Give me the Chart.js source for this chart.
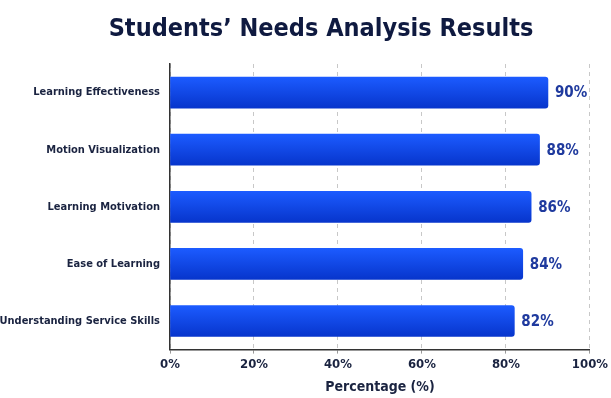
<!DOCTYPE html>
<html>
<head>
<meta charset="utf-8">
<script src="https://cdn.jsdelivr.net/npm/chart.js@4.4.1/dist/chart.umd.min.js"></script>
<style>
  html, body { margin: 0; padding: 0; background: #fff; }
  #wrap { width: 611px; height: 398px; }
</style>
</head>
<body>
<div id="wrap"><canvas id="chart" width="611" height="398"></canvas></div>
<script>
const categories = [
  'Learning Effectiveness',
  'Motion Visualization',
  'Learning Motivation',
  'Ease of Learning',
  'Understanding Service Skills'
];
const percentages = [90, 88, 86, 84, 82];
const xTicks = [0, 20, 40, 60, 80, 100];

const FONT = '"Liberation Sans Narrow", "DejaVu Sans Condensed", Roboto, sans-serif';
const BAR_THICK = 31;

// value labels to the right of each bar
const valueLabels = {
  id: 'valueLabels',
  afterDatasetsDraw(chart) {
    const ctx = chart.ctx;
    const meta = chart.getDatasetMeta(0);
    ctx.save();
    ctx.font = 'bold 15px ' + FONT;
    ctx.fillStyle = '#1f3a9e';
    ctx.textAlign = 'left';
    ctx.textBaseline = 'middle';
    meta.data.forEach((bar, i) => {
      ctx.fillText(percentages[i] + '%', bar.x + 7, bar.y + 1);
    });
    ctx.restore();
  }
};

new Chart(document.getElementById('chart'), {
  type: 'bar',
  data: {
    labels: categories,
    datasets: [{
      data: percentages,
      barThickness: BAR_THICK,
      borderRadius: 3,
      borderSkipped: 'start',
      backgroundColor(c) {
        const y = c.chart.scales.y;
        if (!y || c.dataIndex === undefined) return '#0d45f0';
        const mid = y.getPixelForValue(c.dataIndex);
        if (!isFinite(mid)) return '#0d45f0';
        const g = c.chart.ctx.createLinearGradient(0, mid - BAR_THICK / 2, 0, mid + BAR_THICK / 2);
        g.addColorStop(0, '#1c5bff');
        g.addColorStop(1, '#0735cc');
        return g;
      }
    }]
  },
  options: {
    indexAxis: 'y',
    responsive: false,
    animation: false,
    layout: { padding: { left: 0, right: 14, top: 0, bottom: 0 } },
    plugins: {
      legend: { display: false },
      tooltip: { enabled: false },
      title: {
        display: true,
        // leading en spaces nudge the centred title to the right, as in the original
        text: '\u2002\u2002\u2002\u2002Students\u2019 Needs Analysis Results',
        color: '#0f1a40',
        font: { family: FONT, size: 25, weight: 'bold' },
        padding: { top: 14, bottom: 20 }
      }
    },
    scales: {
      x: {
        min: 0,
        max: 100,
        afterBuildTicks(scale) {
          scale.ticks = xTicks.map(v => ({ value: v }));
        },
        ticks: {
          callback: v => v + '%',
          color: '#1a2340',
          font: { family: FONT, size: 13, weight: 'bold' },
          padding: 3,
          maxRotation: 0
        },
        grid: {
          color: '#c8c8c8',
          tickColor: '#999',
          tickLength: 4,
          drawOnChartArea: true
        },
        border: { display: true, color: '#333', width: 1.5, dash: [4, 4] },
        title: {
          display: true,
          text: 'Percentage (%)',
          color: '#1a2340',
          font: { family: FONT, size: 14, weight: 'bold' },
          padding: { top: 4, bottom: 2 }
        }
      },
      y: {
        afterFit(scale) { scale.width = 170; },
        ticks: {
          color: '#1a2340',
          font: { family: FONT, size: 11, weight: 'bold' },
          padding: 2
        },
        grid: { display: false },
        border: { display: true, color: '#333', width: 1.5 }
      }
    }
  },
  plugins: [valueLabels]
});
</script>
</body>
</html>
